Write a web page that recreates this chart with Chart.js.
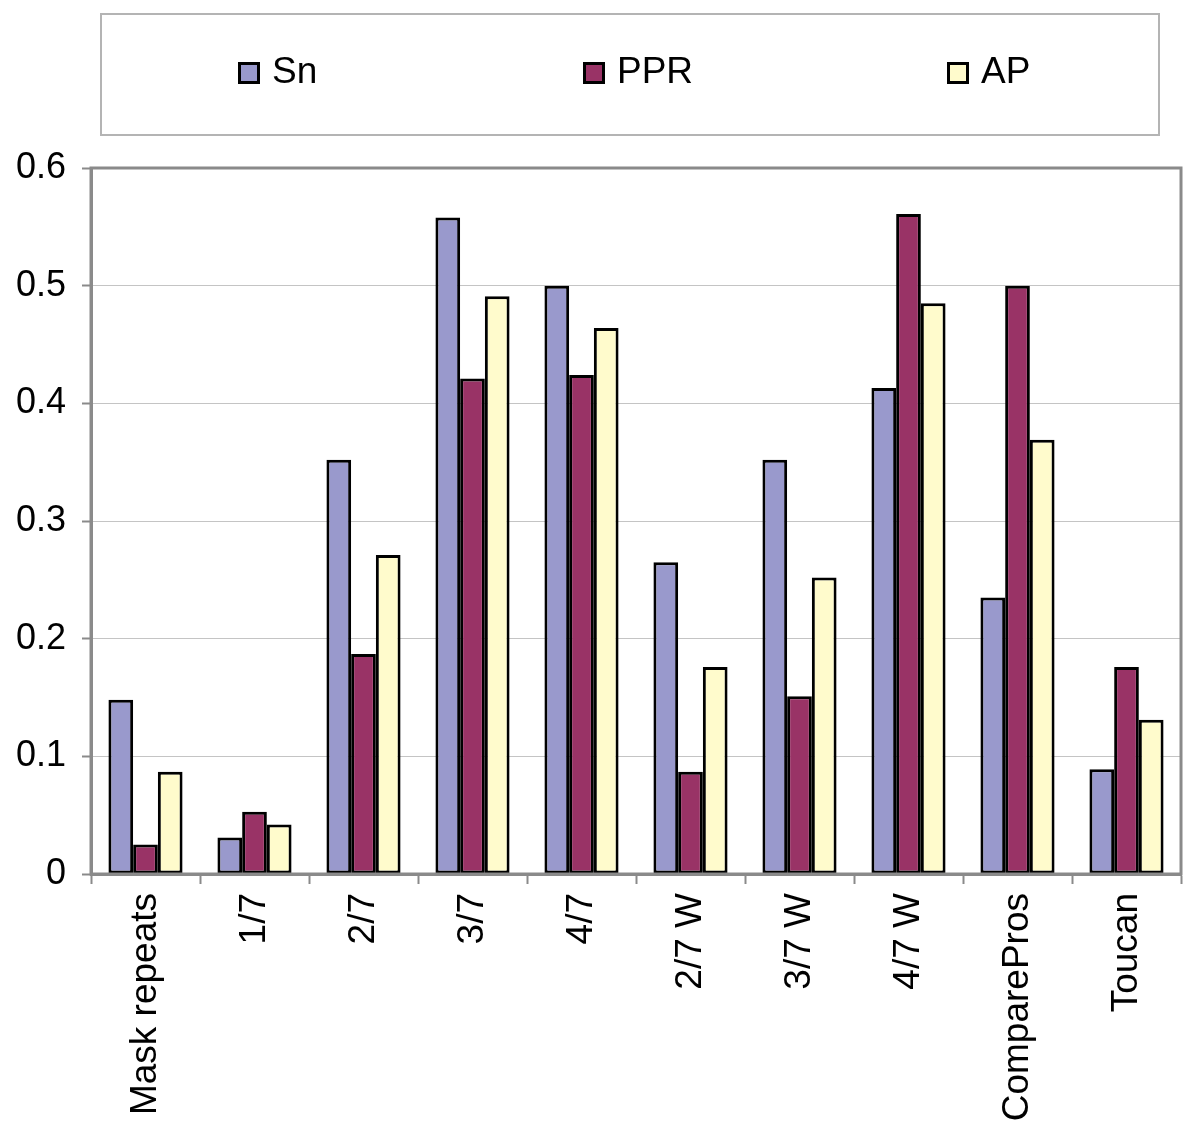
<!DOCTYPE html>
<html>
<head>
<meta charset="utf-8">
<script src="https://cdn.jsdelivr.net/npm/chart.js@4"></script>
<style>
  html, body { margin: 0; padding: 0; background: #fff; }
  canvas { display: block; }
</style>
</head>
<body>
<canvas id="barChart" width="1200" height="1126"></canvas>
<script>
// --- data ---
const categories = ['Mask repeats', '1/7', '2/7', '3/7', '4/7', '2/7 W', '3/7 W', '4/7 W', 'ComparePros', 'Toucan'];
const snValues  = [0.148, 0.031, 0.352, 0.558, 0.500, 0.265, 0.352, 0.413, 0.235, 0.089];
const pprValues = [0.025, 0.053, 0.187, 0.421, 0.424, 0.087, 0.151, 0.561, 0.500, 0.176];
const apValues  = [0.087, 0.042, 0.271, 0.491, 0.464, 0.176, 0.252, 0.485, 0.369, 0.131];
const yTicks = [0, 0.1, 0.2, 0.3, 0.4, 0.5, 0.6];

const FONT = '"Liberation Sans", Arial, sans-serif';

// Legend in a framed box above the plot, plus the grey frame round the plot area
const boxedLegend = {
    id: 'boxedLegend',
    afterDraw(chart) {
        const ctx = chart.ctx;
        ctx.save();
        ctx.strokeStyle = '#b4b4b4';
        ctx.lineWidth = 2;
        ctx.strokeRect(101, 14, 1058, 121);

        const starts = [238, 583, 947];
        chart.data.datasets.forEach((ds, i) => {
            const x = starts[i];
            ctx.fillStyle = ds.backgroundColor;
            ctx.fillRect(x, 62, 22, 22);
            ctx.strokeStyle = '#000';
            ctx.lineWidth = 3;
            ctx.strokeRect(x + 1.5, 63.5, 19, 19);
            ctx.fillStyle = '#000';
            ctx.font = '37px ' + FONT;
            ctx.textBaseline = 'alphabetic';
            ctx.fillText(ds.label, x + 34, 83);
        });

        // plot frame
        const a = chart.chartArea;
        ctx.strokeStyle = '#8a8a8a';
        ctx.lineWidth = 3;
        ctx.strokeRect(a.left, a.top, a.right - a.left, a.bottom - a.top);
        ctx.restore();
    }
};

const ctx = document.getElementById('barChart').getContext('2d');

new Chart(ctx, {
    type: 'bar',
    data: {
        labels: categories,
        datasets: [
            { label: 'Sn',  data: snValues,  backgroundColor: '#9999CC' },
            { label: 'PPR', data: pprValues, backgroundColor: '#993366' },
            { label: 'AP',  data: apValues,  backgroundColor: '#FFFBCC' }
        ].map(d => Object.assign(d, {
            borderColor: '#000',
            borderWidth: 3,
            borderSkipped: false,
            categoryPercentage: 0.68,
            barPercentage: 1.0
        }))
    },
    options: {
        responsive: false,
        animation: false,
        layout: { padding: { top: 168, right: 19, left: 0, bottom: 0 } },
        plugins: {
            legend: { display: false },
            tooltip: { enabled: false }
        },
        scales: {
            x: {
                afterFit: s => { s.height = 252; },
                grid: {
                    drawOnChartArea: false,
                    drawTicks: true,
                    tickLength: 10,
                    tickColor: '#8a8a8a',
                    tickWidth: 2
                },
                border: { display: true, color: '#8a8a8a', width: 3 },
                ticks: {
                    color: '#000',
                    font: { family: FONT, size: 37 },
                    minRotation: 90,
                    maxRotation: 90,
                    padding: 9,
                    autoSkip: false
                }
            },
            y: {
                min: 0,
                max: 0.6,
                afterFit: s => { s.width = 91; },
                afterBuildTicks: s => { s.ticks = yTicks.map(v => ({ value: v })); },
                grid: {
                    color: '#c4c4c4',
                    lineWidth: 1,
                    tickLength: 9,
                    tickColor: '#8a8a8a',
                    tickWidth: 2
                },
                border: { display: true, color: '#8a8a8a', width: 3 },
                ticks: {
                    color: '#000',
                    font: { family: FONT, size: 36 },
                    padding: 16,
                    callback: v => String(Math.round(v * 10) / 10)
                }
            }
        }
    },
    plugins: [boxedLegend]
});
</script>
</body>
</html>
